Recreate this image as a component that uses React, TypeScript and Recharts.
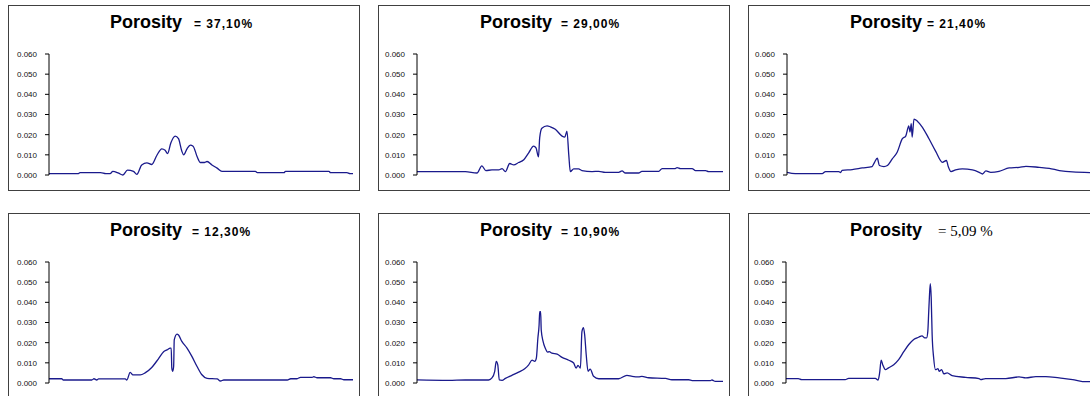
import { LineChart, Line, XAxis, YAxis } from 'recharts';

// each point: [position along the x range 0..100, pore size fraction]
const P1: [number, number][] = [
  [0, 0.0007], [9.7, 0.0007], [10.2, 0.0012], [17.0, 0.0012], [18.7, 0.0007], [20.1, 0.0007],
  [21.0, 0.0018], [22.9, 0.0009], [24.3, 0.0], [25.8, 0.0024], [27.8, 0.0018], [28.9, 0.0003],
  [30.5, 0.005], [32.2, 0.006], [33.8, 0.0052], [35.5, 0.0098], [37.1, 0.013], [38.2, 0.0123],
  [39.0, 0.0106], [40.1, 0.016], [41.5, 0.0193], [42.6, 0.018], [43.7, 0.0118], [44.3, 0.01],
  [45.4, 0.013], [46.5, 0.0148], [47.4, 0.0143], [48.7, 0.0092], [49.8, 0.0062], [51.1, 0.0062],
  [52.0, 0.0067], [53.6, 0.005], [55.3, 0.0034], [56.9, 0.0018], [67.9, 0.0018], [68.5, 0.0012],
  [77.3, 0.0012], [77.8, 0.0018], [92.1, 0.0018], [92.6, 0.0012], [98.0, 0.0012], [99.0, 0.0007],
  [100, 0.0007],
];

const P2: [number, number][] = [
  [0, 0.0017], [15.8, 0.0017], [19.6, 0.001], [21.2, 0.0045], [22.5, 0.0022], [24.5, 0.0025],
  [26.7, 0.0025], [27.8, 0.0032], [28.9, 0.0017], [30.3, 0.0057], [31.6, 0.005], [33.2, 0.0062],
  [34.9, 0.0076], [36.5, 0.011], [38.1, 0.0143], [38.9, 0.0134], [39.7, 0.009], [40.1, 0.0185],
  [40.8, 0.0232], [42.5, 0.0244], [43.6, 0.0239], [45.2, 0.0227], [47.4, 0.0193], [48.3, 0.0188],
  [49.0, 0.0218], [49.6, 0.01], [50.1, 0.0017], [51.2, 0.003], [52.8, 0.003], [53.9, 0.0022],
  [57.2, 0.0017], [59.4, 0.0018], [61.5, 0.0013], [65.9, 0.0013], [67.0, 0.002], [68.1, 0.001],
  [72.4, 0.001], [73.5, 0.0018], [79.0, 0.0018], [80.1, 0.0032], [84.4, 0.0032], [85.0, 0.0037],
  [86.1, 0.0032], [89.9, 0.0032], [91.0, 0.0022], [94.3, 0.0022], [95.3, 0.0017], [100, 0.0017],
];

const P3: [number, number][] = [
  [0, 0.0013], [2.7, 0.0007], [11.5, 0.0007], [12.6, 0.0017], [16.9, 0.0017], [17.5, 0.0012],
  [18.0, 0.0023], [21.3, 0.0027], [24.6, 0.0035], [27.8, 0.0042], [28.6, 0.0063], [29.5, 0.0083],
  [30.2, 0.0047], [31.7, 0.0042], [32.8, 0.0047], [34.4, 0.008], [36.0, 0.0113], [37.7, 0.018],
  [38.8, 0.0193], [39.8, 0.0243], [40.2, 0.0213], [40.6, 0.0255], [40.9, 0.0188], [41.5, 0.0277],
  [42.6, 0.0267], [44.2, 0.0238], [46.4, 0.018], [48.6, 0.0117], [50.8, 0.0063], [52.1, 0.0072],
  [52.7, 0.0042], [53.6, 0.0017], [55.1, 0.0025], [57.3, 0.003], [60.6, 0.0025], [62.8, 0.0013],
  [63.9, 0.0005], [65.0, 0.002], [66.6, 0.0013], [69.3, 0.0018], [72.6, 0.0035], [75.9, 0.0038],
  [78.1, 0.0043], [82.4, 0.0038], [85.7, 0.0033], [89.0, 0.0022], [93.3, 0.0015], [100, 0.0012],
];

const P4: [number, number][] = [
  [0, 0.0021], [4.2, 0.0021], [4.7, 0.0015], [14.1, 0.0015], [14.8, 0.0021], [15.7, 0.0015],
  [16.3, 0.002], [25.1, 0.002], [25.6, 0.0015], [26.7, 0.0053], [27.6, 0.004], [30.0, 0.004],
  [31.6, 0.005], [33.8, 0.0077], [36.0, 0.012], [37.7, 0.0155], [38.8, 0.0164], [39.9, 0.0173],
  [40.2, 0.0173], [40.4, 0.0074], [40.7, 0.0058], [41.0, 0.0082], [41.2, 0.0214], [42.1, 0.0242],
  [42.6, 0.0238], [43.7, 0.0206], [45.4, 0.0173], [47.0, 0.0132], [48.7, 0.0082], [50.3, 0.0041],
  [52.0, 0.0023], [55.3, 0.002], [56.4, 0.001], [57.5, 0.0015], [78.4, 0.0015], [79.5, 0.0021],
  [81.6, 0.0021], [82.7, 0.0028], [86.6, 0.0028], [87.1, 0.0031], [88.2, 0.0026], [92.6, 0.0026],
  [93.7, 0.0021], [95.9, 0.0021], [97.0, 0.0016], [100, 0.0016],
];

const P5: [number, number][] = [
  [0, 0.0015], [10.3, 0.0013], [15.8, 0.0015], [23.4, 0.0015], [24.5, 0.0025], [25.4, 0.0058],
  [25.9, 0.0107], [26.4, 0.009], [26.9, 0.0015], [27.8, 0.0013], [28.9, 0.0023], [31.0, 0.0038],
  [33.2, 0.0054], [35.2, 0.0071], [36.5, 0.009], [37.6, 0.0113], [38.5, 0.0107], [39.0, 0.0123],
  [39.5, 0.0222], [39.9, 0.0288], [40.1, 0.0354], [40.4, 0.0354], [40.6, 0.0263], [41.2, 0.0206],
  [41.9, 0.0173], [42.7, 0.0153], [43.2, 0.0156], [44.1, 0.0148], [45.8, 0.0143], [47.4, 0.0127],
  [49.6, 0.0113], [51.2, 0.0099], [52.0, 0.0074], [52.6, 0.0087], [53.4, 0.0074], [53.9, 0.0255],
  [54.4, 0.0275], [54.8, 0.0238], [55.3, 0.014], [55.9, 0.0058], [56.6, 0.0069], [57.7, 0.0033],
  [59.4, 0.0021], [65.9, 0.0021], [68.6, 0.0038], [70.3, 0.0033], [72.4, 0.003], [73.5, 0.0033],
  [75.7, 0.0026], [81.2, 0.0023], [83.3, 0.0016], [88.8, 0.0016], [89.9, 0.0012], [95.9, 0.0012],
  [96.4, 0.0015], [97.5, 0.0008], [100, 0.0008],
];

const P6: [number, number][] = [
  [0, 0.0022], [4.0, 0.0022], [5.1, 0.0017], [19.3, 0.0017], [20.4, 0.0023], [29.1, 0.0023],
  [30.0, 0.0015], [30.5, 0.005], [31.0, 0.0113], [31.5, 0.0091], [32.4, 0.0066], [33.4, 0.0075],
  [35.1, 0.0091], [36.7, 0.0116], [38.3, 0.0154], [40.0, 0.0191], [41.6, 0.0216], [43.2, 0.0227],
  [44.3, 0.0234], [45.2, 0.0224], [45.8, 0.0224], [46.2, 0.0257], [46.5, 0.0357], [46.7, 0.0423],
  [47.0, 0.0493], [47.3, 0.0423], [47.6, 0.024], [48.1, 0.0124], [48.7, 0.0066], [49.5, 0.0071],
  [49.9, 0.0058], [50.7, 0.0066], [51.4, 0.0045], [52.5, 0.005], [54.1, 0.0036], [58.5, 0.0028],
  [62.9, 0.0022], [63.4, 0.0017], [65.0, 0.0022], [71.6, 0.0022], [75.9, 0.003], [78.1, 0.0025],
  [81.4, 0.0032], [84.6, 0.0032], [89.0, 0.0025], [93.4, 0.0017], [96.6, 0.0007], [100, 0.0007],
];

const LABELS = ['= 37,10%', '= 29,00%', '= 21,40%', '= 12,30%', '= 10,90%', '= 5,09 %'];
const Y_TICKS = [0, 0.01, 0.02, 0.03, 0.04, 0.05, 0.06];

const SANS = '"Liberation Sans", Arial, Helvetica, sans-serif';
const BOLD_VALUE = { fontSize: 12, fontWeight: 'bold' as const, letterSpacing: 1, fontFamily: SANS };
const SERIF_VALUE = { fontSize: 15, fontFamily: '"Liberation Serif", "Times New Roman", serif' };

const PANELS = [
  { points: P1, label: LABELS[0], left: 8, top: 5, axisW: 40, gap: 12, valueStyle: BOLD_VALUE },
  { points: P2, label: LABELS[1], left: 378, top: 5, axisW: 38, gap: 9, valueStyle: BOLD_VALUE },
  { points: P3, label: LABELS[2], left: 748, top: 5, axisW: 38, gap: 5, valueStyle: BOLD_VALUE },
  { points: P4, label: LABELS[3], left: 8, top: 213, axisW: 40, gap: 10, valueStyle: BOLD_VALUE },
  { points: P5, label: LABELS[4], left: 378, top: 213, axisW: 38, gap: 9, valueStyle: BOLD_VALUE },
  { points: P6, label: LABELS[5], left: 748, top: 213, axisW: 37, gap: 16, valueStyle: SERIF_VALUE },
];

type PanelCfg = (typeof PANELS)[number];

function Panel({ cfg }: { cfg: PanelCfg }) {
  const data = cfg.points.map(([x, y]) => ({ x, y }));
  return (
    <div
      style={{
        position: 'absolute',
        left: cfg.left,
        top: cfg.top,
        width: 350,
        height: 184,
        border: '1px solid #404040',
        background: '#fff',
      }}
    >
      <div
        style={{
          position: 'absolute',
          left: 101,
          top: 7,
          display: 'flex',
          alignItems: 'baseline',
          whiteSpace: 'nowrap',
          color: '#000',
          lineHeight: 1,
        }}
      >
        <span style={{ fontSize: 18, fontWeight: 'bold', fontFamily: SANS }}>Porosity</span>
        <span style={{ marginLeft: cfg.gap, ...cfg.valueStyle }}>{cfg.label}</span>
      </div>
      <div style={{ position: 'absolute', left: 0, top: 0 }}>
        <LineChart width={344} height={175} data={data} margin={{ top: 48, right: 0, bottom: 6, left: 0 }}>
          <XAxis dataKey="x" type="number" domain={[0, 100]} hide />
          <YAxis
            domain={[0, 0.06]}
            ticks={Y_TICKS}
            interval={0}
            width={cfg.axisW}
            tickSize={4}
            tickMargin={8}
            tickFormatter={(v: number) => v.toFixed(3)}
            axisLine={{ stroke: '#000' }}
            tickLine={{ stroke: '#000' }}
            tick={{ fontSize: 8, fill: '#111', fontFamily: SANS }}
          />
          <Line
            dataKey="y"
            type="monotone"
            stroke="#1a1a8c"
            strokeWidth={1.3}
            dot={false}
            isAnimationActive={false}
          />
        </LineChart>
      </div>
    </div>
  );
}

export default function App() {
  return (
    <div
      style={{
        position: 'absolute',
        left: 0,
        top: 0,
        width: 1090,
        height: 396,
        overflow: 'hidden',
        background: '#fff',
      }}
    >
      {PANELS.map((p, i) => (
        <Panel key={i} cfg={p} />
      ))}
    </div>
  );
}
